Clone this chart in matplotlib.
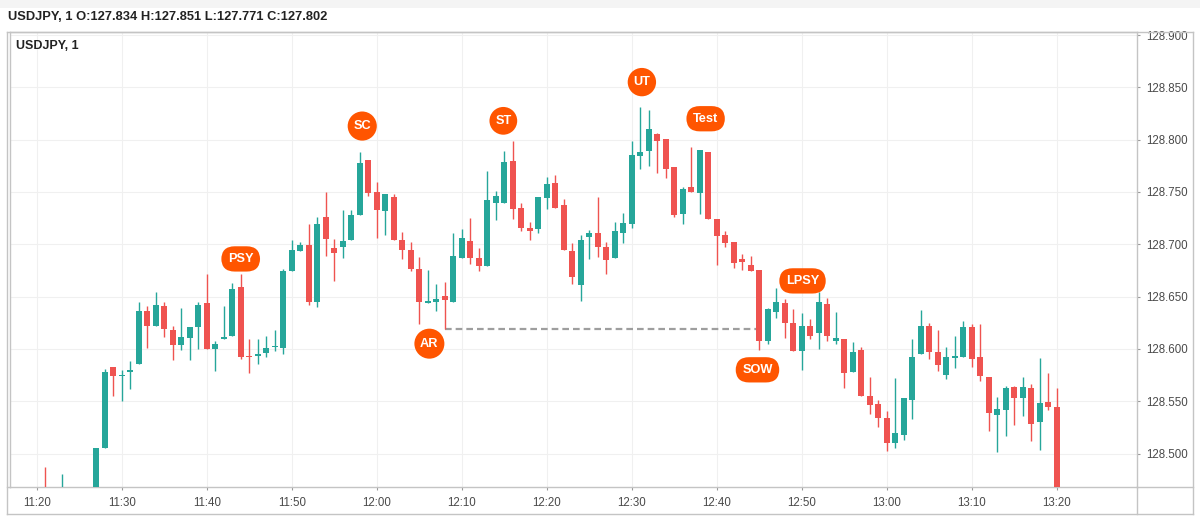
import numpy as np
import matplotlib
matplotlib.use("Agg")
import matplotlib.pyplot as plt
from matplotlib.patches import Rectangle

plt.rcParams["font.family"] = ["Liberation Sans", "DejaVu Sans"]

# 1-minute USDJPY candles, 11:21 .. 13:20
start_time = "11:21"
opens = [
    128.462, 128.458, 128.455, 128.460, 128.452, 128.448, 128.460,
    128.505, 128.583, 128.574, 128.578, 128.586, 128.636, 128.622, 128.641, 128.618, 128.604,
    128.610, 128.621, 128.644, 128.600, 128.609, 128.612, 128.659, 128.593, 128.593, 128.596,
    128.602, 128.601, 128.674, 128.694, 128.699, 128.645, 128.726, 128.696, 128.697, 128.704,
    128.728, 128.781, 128.750, 128.732, 128.745, 128.704, 128.695, 128.676, 128.644, 128.645,
    128.651, 128.645, 128.687, 128.703, 128.687, 128.679, 128.739, 128.739, 128.780, 128.735,
    128.716, 128.715, 128.744, 128.759, 128.738, 128.694, 128.661, 128.707, 128.711, 128.697,
    128.687, 128.711, 128.719, 128.784, 128.789, 128.805, 128.801, 128.774, 128.729, 128.755,
    128.749, 128.788, 128.724, 128.709, 128.702, 128.686, 128.680, 128.675, 128.608, 128.635,
    128.644, 128.625, 128.598, 128.622, 128.615, 128.643, 128.608, 128.609, 128.578, 128.599,
    128.555, 128.547, 128.534, 128.510, 128.518, 128.551, 128.595, 128.622, 128.597, 128.575,
    128.591, 128.592, 128.621, 128.592, 128.573, 128.537, 128.542, 128.564, 128.553, 128.563,
    128.530, 128.549, 128.544,
]
highs = [
    128.487, 128.465, 128.480, 128.466, 128.462, 128.464, 128.505,
    128.581, 128.583, 128.580, 128.588, 128.645, 128.641, 128.654, 128.645, 128.622, 128.639,
    128.621, 128.645, 128.672, 128.608, 128.641, 128.663, 128.672, 128.609, 128.609, 128.612,
    128.618, 128.676, 128.704, 128.702, 128.719, 128.726, 128.750, 128.705, 128.733, 128.733,
    128.788, 128.781, 128.760, 128.748, 128.748, 128.712, 128.702, 128.688, 128.675, 128.662,
    128.664, 128.711, 128.715, 128.725, 128.696, 128.770, 128.751, 128.789, 128.799, 128.739,
    128.721, 128.745, 128.764, 128.766, 128.743, 128.701, 128.709, 128.714, 128.745, 128.702,
    128.721, 128.730, 128.799, 128.831, 128.828, 128.806, 128.801, 128.774, 128.755, 128.793,
    128.790, 128.788, 128.724, 128.713, 128.702, 128.691, 128.689, 128.675, 128.639, 128.658,
    128.648, 128.638, 128.634, 128.629, 128.654, 128.649, 128.635, 128.609, 128.607, 128.602,
    128.573, 128.551, 128.541, 128.572, 128.553, 128.609, 128.637, 128.625, 128.618, 128.602,
    128.612, 128.627, 128.624, 128.624, 128.573, 128.554, 128.565, 128.565, 128.573, 128.566,
    128.591, 128.577, 128.563,
]
lows = [
    128.450, 128.448, 128.446, 128.450, 128.440, 128.442, 128.455,
    128.505, 128.555, 128.550, 128.562, 128.586, 128.601, 128.622, 128.611, 128.589, 128.599,
    128.589, 128.600, 128.600, 128.579, 128.609, 128.612, 128.590, 128.577, 128.586, 128.592,
    128.598, 128.595, 128.674, 128.694, 128.642, 128.640, 128.689, 128.665, 128.687, 128.704,
    128.728, 128.746, 128.706, 128.709, 128.704, 128.686, 128.674, 128.624, 128.644, 128.636,
    128.619, 128.645, 128.687, 128.681, 128.674, 128.679, 128.723, 128.739, 128.724, 128.713,
    128.704, 128.711, 128.734, 128.735, 128.695, 128.662, 128.646, 128.686, 128.688, 128.672,
    128.687, 128.701, 128.716, 128.772, 128.775, 128.768, 128.763, 128.726, 128.719, 128.750,
    128.729, 128.724, 128.680, 128.697, 128.677, 128.675, 128.674, 128.599, 128.605, 128.630,
    128.610, 128.598, 128.580, 128.609, 128.600, 128.608, 128.605, 128.563, 128.578, 128.555,
    128.538, 128.525, 128.502, 128.505, 128.513, 128.533, 128.595, 128.590, 128.579, 128.571,
    128.582, 128.592, 128.583, 128.569, 128.522, 128.501, 128.517, 128.527, 128.536, 128.512,
    128.503, 128.542, 128.435,
]
closes = [
    128.458, 128.455, 128.460, 128.452, 128.448, 128.460, 128.505,
    128.578, 128.574, 128.575, 128.580, 128.636, 128.622, 128.642, 128.619, 128.604, 128.611,
    128.621, 128.642, 128.600, 128.605, 128.611, 128.657, 128.592, 128.592, 128.595, 128.601,
    128.603, 128.674, 128.695, 128.699, 128.645, 128.719, 128.705, 128.692, 128.703, 128.728,
    128.778, 128.749, 128.733, 128.748, 128.704, 128.695, 128.676, 128.645, 128.646, 128.648,
    128.647, 128.689, 128.706, 128.687, 128.679, 128.742, 128.746, 128.779, 128.734, 128.716,
    128.713, 128.745, 128.758, 128.735, 128.695, 128.669, 128.704, 128.711, 128.697, 128.685,
    128.713, 128.720, 128.785, 128.788, 128.810, 128.799, 128.772, 128.728, 128.753, 128.750,
    128.790, 128.724, 128.708, 128.701, 128.682, 128.683, 128.674, 128.608, 128.638, 128.645,
    128.625, 128.598, 128.622, 128.612, 128.645, 128.612, 128.610, 128.577, 128.597, 128.555,
    128.546, 128.534, 128.510, 128.520, 128.553, 128.592, 128.622, 128.597, 128.585, 128.592,
    128.593, 128.621, 128.590, 128.574, 128.539, 128.543, 128.563, 128.553, 128.564, 128.528,
    128.548, 128.544, 128.440,
]

# axis ticks
time_ticks = ["11:20", "11:30", "11:40", "11:50", "12:00", "12:10", "12:20",
              "12:30", "12:40", "12:50", "13:00", "13:10", "13:20"]
price_ticks = [128.500, 128.550, 128.600, 128.650, 128.700, 128.750, 128.800, 128.850, 128.900]

# Wyckoff event labels
label_text = ["PSY", "SC", "AR", "ST", "UT", "Test", "SOW", "LPSY"]
label_time = ["11:44", "11:58", "12:06", "12:15", "12:31", "12:39", "12:45", "12:51"]
label_price = [128.686, 128.813, 128.605, 128.818, 128.855, 128.820, 128.580, 128.665]
label_shift = [0.0, 0.3, 0.2, -0.1, 0.2, -0.3, -0.2, -0.9]  # nudge in minutes

# support level from the AR low, drawn until the SOW bar
level_from, level_to = "12:08", "12:45"

header = "USDJPY, 1 O:127.834 H:127.851 L:127.771 C:127.802"

UP = "#26a69a"
DOWN = "#ef5350"
TAG = "#ff5500"
BORDER = "#c4c4c4"
TEXT = "#4a4a4a"


def to_min(t):
    h, m = t.split(":")
    return int(h) * 60 + int(m) - 11 * 60


W, H = 1200, 524
fig = plt.figure(figsize=(W / 100, H / 100), dpi=100)
fig.patch.set_facecolor("white")

# thin grey band at the very top
fig.patches.append(Rectangle((0, 1 - 8 / H), 1, 8 / H, transform=fig.transFigure,
                             facecolor="#f4f4f4", edgecolor="none", zorder=0))

ax_l, ax_r, ax_t, ax_b = 10, 1137, 32, 487
ax = fig.add_axes([ax_l / W, 1 - ax_b / H, (ax_r - ax_l) / W, (ax_b - ax_t) / H])

x = to_min(start_time) + np.arange(len(opens))
o = np.array(opens)
hi = np.array(highs)
lo = np.array(lows)
c = np.array(closes)
up = c >= o
colors = np.where(up, UP, DOWN)

ax.vlines(x, lo, hi, colors=colors, linewidth=1.0, zorder=3)
body_h = np.maximum(np.abs(c - o), 0.0012)
ax.bar(x, body_h, bottom=np.minimum(o, c), width=0.72, color=colors,
       edgecolor="none", zorder=4)

# dashed support line
lvl = lows[to_min(level_from) - to_min(start_time)]
ax.plot([to_min(level_from), to_min(level_to)], [lvl, lvl], color="#9e9e9e",
        linewidth=1.6, dashes=(3.0, 1.8), zorder=2)

for txt, t, p, dx in zip(label_text, label_time, label_price, label_shift):
    if len(txt) <= 2:
        box = dict(boxstyle="circle,pad=0.45", facecolor=TAG, edgecolor="none")
    else:
        box = dict(boxstyle="round,pad=0.52,rounding_size=1.05", facecolor=TAG, edgecolor="none")
    ax.text(to_min(t) + dx, p, txt, ha="center", va="center", color="white",
            fontsize=9.2, fontweight="bold", bbox=box, zorder=6)

ax.set_xlim(16.86, 149.45)
ax.set_ylim(128.468, 128.9029)

ax.set_xticks([to_min(t) for t in time_ticks])
ax.set_xticklabels(time_ticks)
ax.yaxis.tick_right()
ax.set_yticks(price_ticks)
ax.set_yticklabels([f"{p:.3f}" for p in price_ticks])
ax.tick_params(axis="both", labelsize=8.3, labelcolor=TEXT, color="#9a9a9a",
               length=2.5, width=0.8)
ax.tick_params(axis="x", pad=5)
ax.tick_params(axis="y", pad=4)

ax.grid(True, color="#f0f0f0", linewidth=0.8, zorder=0)
ax.set_axisbelow(True)
for s in ax.spines.values():
    s.set_color(BORDER)
    s.set_linewidth(1.0)


# outer frame with price / time scale areas
def fig_line(x0, y0, x1, y1):
    fig.add_artist(plt.Line2D([x0 / W, x1 / W], [1 - y0 / H, 1 - y1 / H],
                              transform=fig.transFigure, color=BORDER, linewidth=1.0))


fig_line(7, 32, 1193, 32)
fig_line(7, 514, 1193, 514)
fig_line(7, 32, 7, 514)
fig_line(1193, 32, 1193, 514)
fig_line(ax_r, ax_b, ax_r, 514)
fig_line(ax_r, ax_b, 1193, ax_b)
fig_line(7, ax_b, ax_l, ax_b)

fig.text(8 / W, 1 - 17 / H, header, ha="left", va="center", fontsize=9.3,
         fontweight="bold", color="#222222")
ax.text(6 / (ax_r - ax_l), 1 - 14 / (ax_b - ax_t), "USDJPY, 1", transform=ax.transAxes,
        ha="left", va="center", fontsize=9.0, fontweight="bold", color="#222222")

plt.savefig("out.png", dpi=100)
plt.close()
